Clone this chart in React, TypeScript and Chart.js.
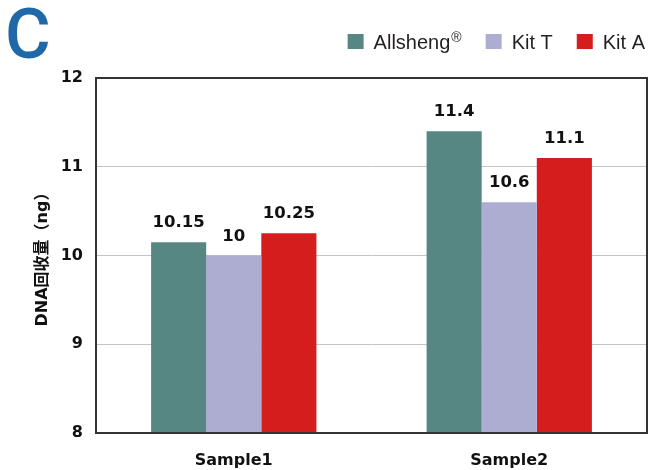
import React, { useEffect, useRef } from "react";
import { Chart, registerables } from "chart.js";

Chart.register(...registerables);

const categories = ["Sample1", "Sample2"];
const seriesNames = ["Allsheng", "Kit T", "Kit A"];
const allshengValues = [10.15, 11.4];
const kitTValues = [10.0, 10.6];
const kitAValues = [10.25, 11.1];
const valueLabels = [
  ["10.15", "11.4"],
  ["10", "10.6"],
  ["10.25", "11.1"],
];
const seriesColors = ["#578783", "#ADADD2", "#D51D1E"];
const yMin = 8;
const yMax = 12;
const yStep = 1;
const panelLetter = "C";
const yTitle = "DNA回收量（ng）";

const BOLD_FONT = "'DejaVu Sans', 'Noto Sans CJK SC', sans-serif";

const decorPlugin = {
  id: "decor",
  afterDatasetsDraw(chart: any) {
    const ctx = chart.ctx;
    const area = chart.chartArea;
    ctx.save();
    ctx.strokeStyle = "#333333";
    ctx.lineWidth = 2;
    ctx.strokeRect(area.left, area.top, area.right - area.left, area.bottom - area.top);
    ctx.fillStyle = "#111111";
    ctx.font = "bold 16.5px " + BOLD_FONT;
    ctx.textAlign = "center";
    ctx.textBaseline = "alphabetic";
    chart.data.datasets.forEach((ds: any, di: number) => {
      const meta = chart.getDatasetMeta(di);
      meta.data.forEach((el: any, i: number) => {
        ctx.fillText(valueLabels[di][i], el.x, el.y - 15);
      });
    });
    ctx.restore();
  },
  afterDraw(chart: any) {
    const ctx = chart.ctx;
    ctx.save();
    ctx.fillStyle = "#1F69A8";
    ctx.font = "500 70px Roboto, 'Liberation Sans', sans-serif";
    ctx.textAlign = "left";
    ctx.textBaseline = "alphabetic";
    ctx.fillText(panelLetter, 5, 58);
    const font = "20px 'Liberation Sans', Arial, sans-serif";
    const supFont = "14px 'Liberation Sans', Arial, sans-serif";
    const box = 16;
    const gapText = 10;
    const gapItem = 24;
    const widths: number[] = [];
    chart.data.datasets.forEach((ds: any) => {
      ctx.font = font;
      let w = ctx.measureText(ds.label).width;
      if (ds.sup) {
        ctx.font = supFont;
        w += ctx.measureText(ds.sup).width + 1;
      }
      widths.push(w);
    });
    let total = 0;
    widths.forEach((w, i) => {
      total += box + gapText + w + (i < widths.length - 1 ? gapItem : 0);
    });
    let x = 645 - total;
    const baseline = 49;
    chart.data.datasets.forEach((ds: any) => {
      ctx.fillStyle = ds.backgroundColor;
      ctx.fillRect(x, 34, box, 15);
      x += box + gapText;
      ctx.fillStyle = "#231F20";
      ctx.font = font;
      ctx.fillText(ds.label, x, baseline);
      let tw = ctx.measureText(ds.label).width;
      if (ds.sup) {
        ctx.font = supFont;
        ctx.fillText(ds.sup, x + tw + 1, baseline - 7);
        tw += ctx.measureText(ds.sup).width + 1;
      }
      x += tw + gapItem;
    });
    ctx.restore();
  },
};

export default function App() {
  const ref = useRef<HTMLCanvasElement | null>(null);

  useEffect(() => {
    document.body.style.margin = "0";
    if (!ref.current) return;
    const chart = new Chart(ref.current, {
      type: "bar",
      data: {
        labels: categories,
        datasets: [
          { label: seriesNames[0], sup: "®", data: allshengValues, backgroundColor: seriesColors[0] } as any,
          { label: seriesNames[1], data: kitTValues, backgroundColor: seriesColors[1] },
          { label: seriesNames[2], data: kitAValues, backgroundColor: seriesColors[2] },
        ],
      },
      options: {
        animation: false,
        responsive: false,
        maintainAspectRatio: false,
        layout: { padding: { top: 78, right: 1, left: 0, bottom: 0 } },
        datasets: { bar: { categoryPercentage: 0.6, barPercentage: 1.0 } },
        plugins: {
          legend: { display: false },
          tooltip: { enabled: false },
        },
        scales: {
          x: {
            grid: { display: false },
            border: { display: false },
            ticks: {
              color: "#111111",
              font: { family: BOLD_FONT, size: 16, weight: "bold" },
              padding: 10,
            },
            afterFit: (s: any) => {
              s.height = 37;
            },
          },
          y: {
            min: yMin,
            max: yMax,
            grid: { color: "#C4C4C4", lineWidth: 1, drawTicks: false },
            border: { display: false },
            ticks: {
              stepSize: yStep,
              color: "#111111",
              font: { family: BOLD_FONT, size: 16, weight: "bold" },
              padding: 13,
            },
            title: {
              display: true,
              text: yTitle,
              color: "#111111",
              font: { family: BOLD_FONT, size: 16, weight: "bold" },
              padding: { top: 33, bottom: 0 },
            },
            afterFit: (s: any) => {
              s.width = 96;
            },
          },
        },
      },
      plugins: [decorPlugin],
    });
    return () => chart.destroy();
  }, []);

  return (
    <div style={{ width: 648, height: 470 }}>
      <canvas ref={ref} width={648} height={470} />
    </div>
  );
}
